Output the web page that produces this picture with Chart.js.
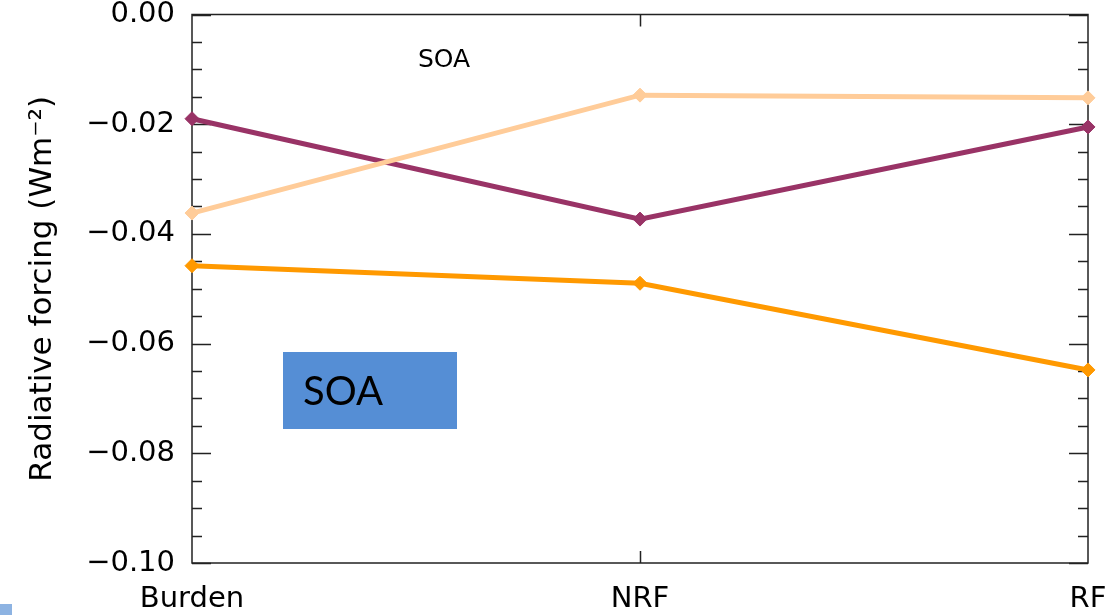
<!DOCTYPE html>
<html>
<head>
<meta charset="utf-8">
<script src="https://cdn.jsdelivr.net/npm/chart.js@4"></script>
<style>
  html, body { margin: 0; padding: 0; background: #fff; }
  #wrap { width: 1108px; height: 615px; position: relative; }
</style>
</head>
<body>
<div id="wrap"><canvas id="soa" width="1108" height="615"></canvas></div>
<script>
// categories and the three SOA series (W m-2)
var categories = ['Burden', 'NRF', 'RF'];
var purpleVals = [-0.0190, -0.0373, -0.0205];
var peachVals  = [-0.0362, -0.0147, -0.0152];
var orangeVals = [-0.0458, -0.0490, -0.0648];

var yMin = -0.10;
var yMax = 0.00;
var yStep = 0.02;
var yMinorStep = 0.005;

var fontName = '"DejaVu Sans", sans-serif';

function fmtTick(v) {
    if (Math.abs(v) < 1e-9) return '0.00';
    return '\u2212' + Math.abs(v).toFixed(2);
}

// box round the plot with inward ticks, like the IDL original
var framePlugin = {
    id: 'frame',
    beforeDatasetsDraw: function (chart) {
        var ctx = chart.ctx;
        var a = chart.chartArea;
        var x = chart.scales.x;
        var y = chart.scales.y;
        ctx.save();
        ctx.strokeStyle = '#222';
        ctx.lineWidth = 1.5;
        ctx.strokeRect(a.left, a.top, a.right - a.left, a.bottom - a.top);
        var n = Math.round((yMax - yMin) / yMinorStep);
        var perMajor = Math.round(yStep / yMinorStep);
        for (var i = 0; i <= n; i++) {
            var v = yMax - i * yMinorStep;
            var py = Math.round(y.getPixelForValue(v)) + 0.5;
            var len = (i % perMajor === 0) ? 19 : 10;
            ctx.beginPath();
            ctx.moveTo(a.left, py);
            ctx.lineTo(a.left + len, py);
            ctx.moveTo(a.right, py);
            ctx.lineTo(a.right - len, py);
            ctx.stroke();
        }
        for (var j = 1; j < categories.length - 1; j++) {
            var px = Math.round(x.getPixelForValue(j)) + 0.5;
            ctx.beginPath();
            ctx.moveTo(px, a.bottom);
            ctx.lineTo(px, a.bottom - 12);
            ctx.moveTo(px, a.top);
            ctx.lineTo(px, a.top + 12);
            ctx.stroke();
        }
        ctx.restore();
    },
    afterDraw: function (chart) {
        var ctx = chart.ctx;
        ctx.save();
        // small label inside the plot
        ctx.fillStyle = '#000';
        ctx.font = '25px ' + fontName;
        ctx.textAlign = 'center';
        ctx.textBaseline = 'middle';
        ctx.fillText('SOA', 444, 60);
        // blue slide box
        ctx.fillStyle = '#558ed5';
        ctx.fillRect(283, 352, 174, 77);
        ctx.fillStyle = '#000';
        ctx.font = '40px Lato, "Open Sans", sans-serif';
        ctx.textAlign = 'left';
        ctx.textBaseline = 'alphabetic';
        ctx.fillText('SOA', 303, 405);
        // bit of a shape at the corner
        ctx.fillStyle = '#8db3e2';
        ctx.fillRect(0, 604, 12, 11);
        ctx.restore();
    }
};

function lineSet(label, data, color) {
    return {
        label: label,
        data: data,
        borderColor: color,
        backgroundColor: color,
        borderWidth: 5,
        pointStyle: 'rectRot',
        pointRadius: 7,
        pointBorderWidth: 1,
        pointBackgroundColor: color,
        pointBorderColor: color,
        tension: 0,
        fill: false
    };
}

new Chart(document.getElementById('soa'), {
    type: 'line',
    data: {
        labels: categories,
        datasets: [
            lineSet('a', peachVals, '#ffcc99'),
            lineSet('b', purpleVals, '#993366'),
            lineSet('c', orangeVals, '#ff9900')
        ]
    },
    options: {
        responsive: false,
        animation: false,
        layout: {
            padding: { left: 0, right: 20, top: 0, bottom: 0 }
        },
        plugins: {
            legend: { display: false },
            tooltip: { enabled: false }
        },
        scales: {
            x: {
                type: 'category',
                offset: false,
                // invisible tick marks used only as the gap under the box
                grid: { display: false, drawTicks: true, tickLength: 22, tickColor: 'rgba(0,0,0,0)' },
                border: { display: false },
                ticks: {
                    color: '#000',
                    padding: 0,
                    maxRotation: 0,
                    font: { family: fontName, size: 29, lineHeight: 1 }
                },
                afterFit: function (scale) { scale.height = 52; }
            },
            y: {
                min: yMin,
                max: yMax,
                grid: { display: false, drawTicks: true, tickLength: 17, tickColor: 'rgba(0,0,0,0)' },
                border: { display: false },
                ticks: {
                    stepSize: yStep,
                    color: '#000',
                    padding: 0,
                    font: { family: fontName, size: 29, lineHeight: 1 },
                    callback: function (v) { return fmtTick(v); }
                },
                title: {
                    display: true,
                    text: 'Radiative forcing (Wm\u207b\u00b2)',
                    color: '#000',
                    padding: { top: 24, bottom: 0 },
                    font: { family: fontName, size: 31, lineHeight: 1.2 }
                },
                afterFit: function (scale) { scale.width = 192; }
            }
        }
    },
    plugins: [framePlugin]
});
</script>
</body>
</html>
